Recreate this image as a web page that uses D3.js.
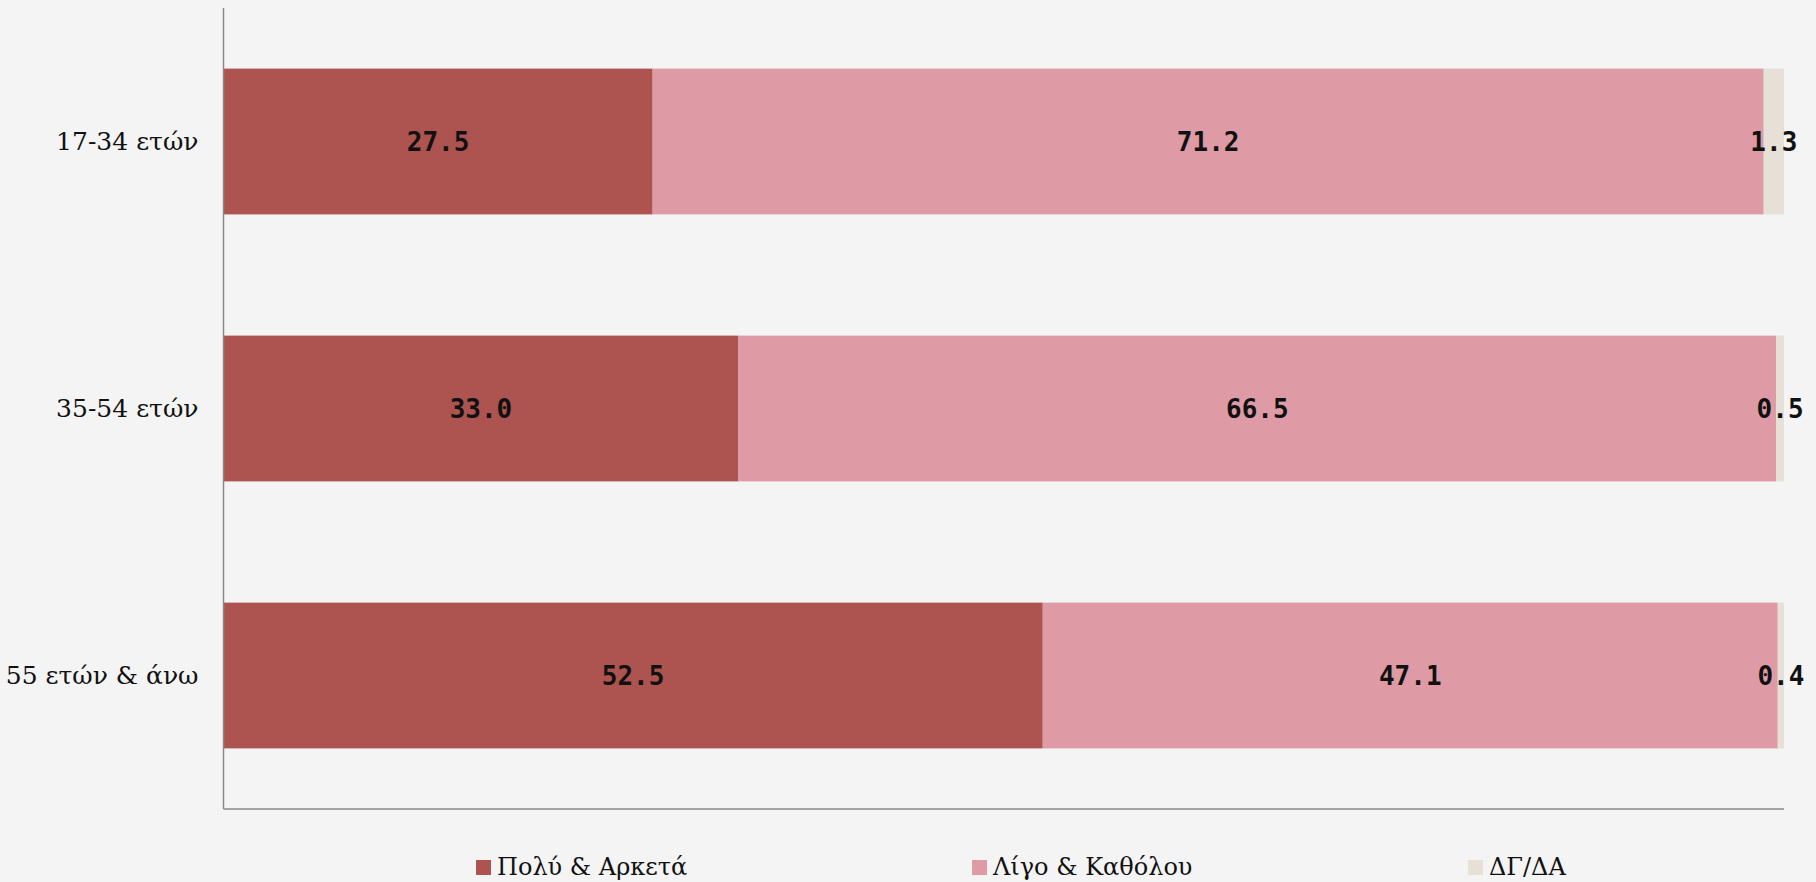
<!DOCTYPE html>
<html lang="el">
<head>
  <meta charset="UTF-8">
  <title>Ηλικιακές ομάδες</title>
  <script src="https://d3js.org/d3.v7.min.js"></script>
  <style>
    * {
      margin: 0;
      padding: 0;
      box-sizing: border-box;
    }
    body {
      background: #f4f4f4;
      overflow: hidden;
    }
    #chart svg {
      display: block;
    }
  </style>
</head>
<body>
  <div id="chart"></div>

  <script>
    // data (percentages per age group)
    const ageGroups = ["17-34 ετών", "35-54 ετών", "55 ετών & άνω"];
    const seriesNames = ["Πολύ & Αρκετά", "Λίγο & Καθόλου", "ΔΓ/ΔΑ"];
    const muchValues = [27.5, 33.0, 52.5];
    const littleValues = [71.2, 66.5, 47.1];
    const dkValues = [1.3, 0.5, 0.4];
    const seriesColors = ["#ad5350", "#de9ba5", "#e6e0d7"];

    const W = 1816, H = 882;
    const margin = {top: 8, right: 32, bottom: 73, left: 223.5};
    const width = W - margin.left - margin.right,
          height = H - margin.top - margin.bottom;

    const rows = ageGroups.map((g, i) => ({
      group: g,
      "Πολύ & Αρκετά": muchValues[i],
      "Λίγο & Καθόλου": littleValues[i],
      "ΔΓ/ΔΑ": dkValues[i]
    }));

    const stacked = d3.stack().keys(seriesNames)(rows);

    const svgRoot = d3.select("#chart")
      .append("svg")
      .attr("width", W)
      .attr("height", H);

    svgRoot.append("rect")
      .attr("width", W)
      .attr("height", H)
      .attr("fill", "#f4f4f4");

    const svg = svgRoot.append("g")
      .attr("transform", `translate(${margin.left},${margin.top})`);

    const x = d3.scaleLinear()
      .domain([0, 100])
      .range([0, width]);

    const y = d3.scaleBand()
      .domain(ageGroups)
      .range([0, height])
      .paddingInner(0.454)
      .paddingOuter(0.227);

    const color = d3.scaleOrdinal()
      .domain(seriesNames)
      .range(seriesColors);

    // bars
    const layer = svg.selectAll(".layer")
      .data(stacked)
      .enter()
      .append("g")
      .attr("class", "layer")
      .attr("fill", d => color(d.key));

    layer.selectAll("rect")
      .data(d => d)
      .enter()
      .append("rect")
      .attr("x", d => x(d[0]))
      .attr("y", d => y(d.data.group))
      .attr("width", d => x(d[1]) - x(d[0]))
      .attr("height", y.bandwidth());

    // value labels
    stacked.forEach(s => {
      svg.selectAll(".lbl-" + s.index)
        .data(s)
        .enter()
        .append("text")
        .attr("x", d => (x(d[0]) + x(d[1])) / 2)
        .attr("y", d => y(d.data.group) + y.bandwidth() / 2)
        .attr("dy", "0.36em")
        .attr("text-anchor", "middle")
        .style("font-family", "'DejaVu Sans Mono', monospace")
        .style("font-weight", "bold")
        .style("font-size", "26px")
        .style("fill", "#111")
        .text(d => d3.format(".1f")(d[1] - d[0]));
    });

    // axes
    const yAxis = svg.append("g")
      .call(d3.axisLeft(y).tickSize(0).tickPadding(25).tickSizeOuter(0));
    yAxis.select(".domain").remove();
    yAxis.selectAll("text")
      .style("font-family", "'DejaVu Serif', serif")
      .style("font-size", "25px")
      .style("fill", "#111");

    svg.append("line")
      .attr("x1", 0).attr("x2", 0)
      .attr("y1", 0).attr("y2", height)
      .attr("stroke", "#8a8a8a")
      .attr("stroke-width", 1.5);

    svg.append("line")
      .attr("x1", 0).attr("x2", width)
      .attr("y1", height).attr("y2", height)
      .attr("stroke", "#8a8a8a")
      .attr("stroke-width", 1.5);

    // legend
    const legendX = d3.scaleBand()
      .domain(seriesNames)
      .range([476, 476 + 3 * 496]);

    const legend = svgRoot.selectAll(".legend")
      .data(seriesNames)
      .enter()
      .append("g")
      .attr("class", "legend")
      .attr("transform", d => `translate(${legendX(d)}, 860)`);

    legend.append("rect")
      .attr("width", 15)
      .attr("height", 15)
      .attr("fill", d => color(d));

    legend.append("text")
      .attr("x", 21)
      .attr("y", 15)
      .style("font-family", "'DejaVu Serif', serif")
      .style("font-size", "24px")
      .style("fill", "#111")
      .text(d => d);
  </script>
</body>
</html>
